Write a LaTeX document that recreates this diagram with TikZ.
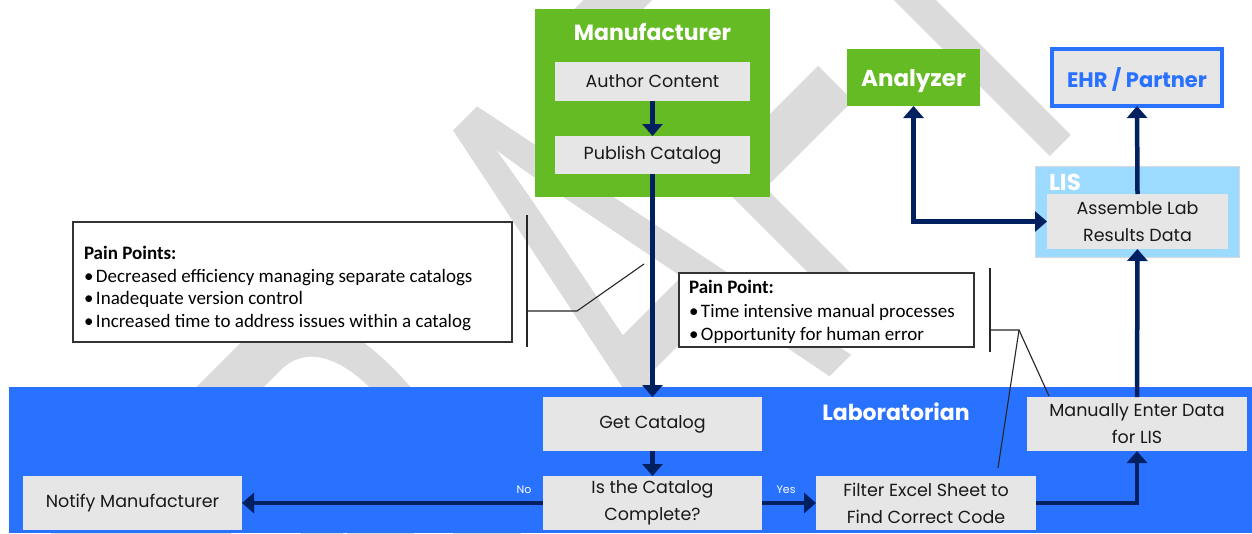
\documentclass[tikz,border=0pt]{standalone}
\usepackage{fontspec}
\usepackage{graphicx}
\setmainfont{Poppins}
\newfontfamily\calib{Carlito}
\newfontfamily\wmfont{Liberation Sans}
\usetikzlibrary{arrows.meta}
\definecolor{mgreen}{RGB}{101,187,35}
\definecolor{boxgray}{RGB}{230,230,230}
\definecolor{navy}{RGB}{0,32,96}
\definecolor{labblue}{RGB}{41,113,255}
\definecolor{lisblue}{RGB}{157,218,255}
\definecolor{wmgray}{RGB}{219,219,219}
\definecolor{txt}{RGB}{25,25,25}
\begin{document}
\begin{tikzpicture}[x=1pt,y=-1pt,
  every node/.style={outer sep=0pt},
  stepbox/.style={fill=boxgray, draw=none, inner sep=2pt, align=center, text=txt,
    font=\fontsize{17.5}{27}\selectfont},
  title/.style={text=white, font=\bfseries\fontsize{22}{26}\selectfont, inner sep=0pt},
  flow/.style={draw=navy, line width=4.5pt, -{Triangle[width=20pt,length=12pt]}},
  painframe/.style={draw=black!80, line width=1.2pt, fill=white, inner sep=0pt},
  paintext/.style={align=left, text=black, inner sep=0pt, font=\calib\fontsize{19}{22.5}\selectfont},
  lead/.style={draw=black!85, line width=1.1pt},
  small/.style={text=white, font=\fontsize{11}{13}\selectfont, inner sep=0pt}
]
\useasboundingbox (0,0) rectangle (1252,533);
\fill[white] (0,0) rectangle (1252,533);
% watermark
\node[rotate=45, anchor=south west, text=wmgray, inner sep=0pt] (wm) at (304,903)
  {\resizebox{1166pt}{440pt}{\wmfont DR\kern0.3em AFT}};
% lanes
\node[fill=mgreen, minimum width=235pt, minimum height=188pt, inner sep=0pt] (mfr) at (652.5,103) {};
\node[title] (mfrt) at (652.5,32) {Manufacturer};
\node[fill=labblue, minimum width=1243pt, minimum height=146pt, inner sep=0pt] (lab) at (630.5,460) {};
\node[title] (labt) at (896,412) {Laboratorian};
\node[fill=lisblue, draw=black!15, line width=0.6pt, minimum width=204pt, minimum height=91pt, inner sep=0pt] (lis) at (1137,211.5) {};
\node[title, font=\bfseries\fontsize{23}{26}\selectfont, anchor=west] (list) at (1049,182) {LIS};
% steps
\node[stepbox, minimum width=195pt, minimum height=39pt] (author) at (652.5,81.5) {Author Content};
\node[stepbox, minimum width=195pt, minimum height=38pt] (publish) at (652.5,155) {Publish Catalog};
\node[fill=mgreen, minimum width=133pt, minimum height=57pt, inner sep=0pt, text=white, text depth=0pt,
  font=\bfseries\fontsize{23}{26}\selectfont] (analyzer) at (913.5,77.5) {Analyzer};
\node[fill=boxgray, draw=labblue, line width=4pt, minimum width=170pt, minimum height=57pt, inner sep=0pt,
  text height=19pt, text depth=0pt,
  text=labblue, font=\bfseries\fontsize{21}{26}\selectfont] (ehr) at (1137,77.5) {EHR / Partner};
\node[stepbox, minimum width=181pt, minimum height=55pt] (assemble) at (1137.5,221.5) {Assemble Lab\\Results Data};
\node[stepbox, minimum width=219pt, minimum height=54pt] (getcat) at (652.5,424) {Get Catalog};
\node[stepbox, minimum width=219pt, minimum height=54pt] (iscat) at (652.5,503) {Is the Catalog\\Complete?};
\node[stepbox, minimum width=219pt, minimum height=54pt] (notify) at (132.5,503) {Notify Manufacturer};
\node[stepbox, minimum width=220pt, minimum height=54pt] (filter) at (926,503) {Filter Excel Sheet to\\Find Correct Code};
\node[stepbox, minimum width=220pt, minimum height=54pt] (manual) at (1137,424) {Manually Enter Data\\for LIS};
% pain point boxes
\node[painframe, minimum width=439pt, minimum height=120pt] (pain1) at (292.5,282) {};
\node[paintext, anchor=west] (pain1t) at (84,288.5)
  {\textbf{Pain Points:}\\
   \makebox[12pt][l]{•}Decreased efficiency managing separate catalogs\\
   \makebox[12pt][l]{•}Inadequate version control\\
   \makebox[12pt][l]{•}Increased time to address issues within a catalog};
\node[painframe, minimum width=295pt, minimum height=74pt] (pain2) at (826.5,310) {};
\node[paintext, anchor=west, font=\calib\fontsize{19}{23.5}\selectfont] (pain2t) at (689,312)
  {\textbf{Pain Point:}\\
   \makebox[12pt][l]{•}Time intensive manual processes\\
   \makebox[12pt][l]{•}Opportunity for human error};
% flows
\draw[flow] (author) -- (publish);
\draw[flow] (publish) -- (getcat);
\draw[flow] (getcat) -- (iscat);
\draw[flow] (iscat) -- (notify);
\draw[flow] (iscat) -- (filter);
\draw[flow] (filter.east) -| (manual.south);
\draw[flow] (manual) -- (assemble);
\draw[flow] (assemble.north) -- (ehr.south);
\draw[flow, {Triangle[width=20pt,length=12pt]}-{Triangle[width=20pt,length=12pt]}] (analyzer.south) |- (assemble.west);
\node[small] (nolab) at (524,490) {No};
\node[small] (yeslab) at (786,490) {Yes};
% leader brackets
\coordinate (b1t) at (527,215);
\coordinate (b1b) at (527,347);
\coordinate (b1m) at (527,311);
\coordinate (b1k) at (577,311);
\coordinate (b1e) at (644,264);
\draw[lead] (b1t) -- (b1b);
\draw[lead] (b1m) -- (b1k) -- (b1e);
\coordinate (b2t) at (990,268);
\coordinate (b2b) at (990,352);
\coordinate (b2m) at (990,330);
\coordinate (b2k) at (1019,330);
\coordinate (b2f) at (998,468);
\coordinate (b2g) at (1049,396);
\draw[lead] (b2t) -- (b2b);
\draw[lead] (b2m) -- (b2k) -- (b2f);
\draw[lead] (b2k) -- (b2g);
\end{tikzpicture}
\end{document}
